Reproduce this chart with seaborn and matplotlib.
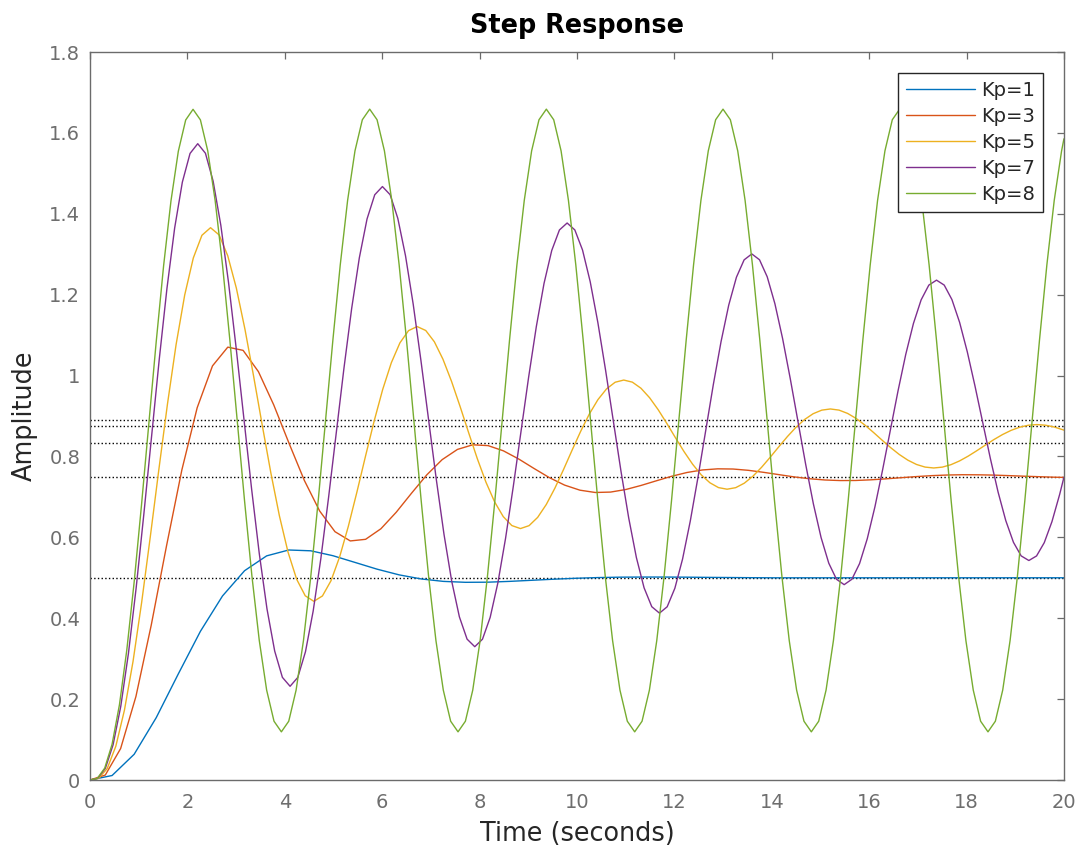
import numpy as np
import pandas as pd
import matplotlib
matplotlib.use("Agg")
import matplotlib.pyplot as plt
import seaborn as sns

# Step response of Kp*G(s) in unity feedback
labels = ['Kp=1', 'Kp=3', 'Kp=5', 'Kp=7', 'Kp=8']
colors = ['#0072BD', '#D95319', '#EDB120', '#7E2F8E', '#77AC30']
final_values = [0.5, 0.75, 0.8333, 0.875, 0.8889]
t_end = 20.0
# sample spacing (s) of each read-off curve; the last sample sits at t_end
steps = [0.45345, 0.31441, 0.17679, 0.15803, 0.15115]

amp_kp1 = [0.0, 0.0111, 0.0636, 0.1542, 0.2624, 0.3676, 0.4550, 0.5175, 0.5542, 0.5687,
           0.5667, 0.5546, 0.5380, 0.5213, 0.5072, 0.4971, 0.4911, 0.4888, 0.4891, 0.4911,
           0.4938, 0.4965, 0.4988, 0.5005, 0.5015, 0.5018, 0.5018, 0.5015, 0.5010, 0.5006,
           0.5002, 0.4999, 0.5000]

amp_kp3 = [0.0, 0.0123, 0.0777, 0.2065, 0.3829, 0.5793, 0.7667, 0.9204, 1.0239, 1.0703,
           1.0623, 1.0097, 0.9275, 0.8325, 0.7407, 0.6651,
           0.6140, 0.5911, 0.5951, 0.6212, 0.6620, 0.7091, 0.7546, 0.7921, 0.8174, 0.8288,
           0.8268, 0.8139, 0.7937, 0.7703, 0.7477, 0.7291,
           0.7166, 0.7109, 0.7119, 0.7183, 0.7284, 0.7399, 0.7511, 0.7604, 0.7666, 0.7694,
           0.7689, 0.7657, 0.7607, 0.7550, 0.7494, 0.7449,
           0.7418, 0.7404, 0.7406, 0.7422, 0.7447, 0.7475, 0.7503, 0.7526, 0.7541, 0.7548,
           0.7546, 0.7539, 0.7526, 0.7512, 0.7499, 0.7487, 0.7482]

amp_kp5 = [0.0, 0.0040, 0.0283, 0.0835, 0.1727, 0.2934, 0.4391, 0.6008, 0.7680, 0.9299,
           1.0766, 1.1991, 1.2907, 1.3468, 1.3656, 1.3477, 1.2962, 1.2162, 1.1144, 0.9989,
           0.8781, 0.7602, 0.6532, 0.5636,
           0.4966, 0.4555, 0.4418, 0.4551, 0.4930, 0.5519, 0.6267, 0.7116, 0.8005, 0.8871,
           0.9658, 1.0316, 1.0809, 1.1111, 1.1212, 1.1114, 1.0835, 1.0403, 0.9853, 0.9228,
           0.8575, 0.7938, 0.7360, 0.6876,
           0.6513, 0.6291, 0.6217, 0.6289, 0.6494, 0.6812, 0.7216, 0.7675, 0.8156, 0.8624,
           0.9049, 0.9405, 0.9671, 0.9835, 0.9889, 0.9837, 0.9686, 0.9452, 0.9155, 0.8817,
           0.8464, 0.8120, 0.7807, 0.7545,
           0.7350, 0.7230, 0.7190, 0.7228, 0.7339, 0.7511, 0.7730, 0.7978, 0.8237, 0.8490,
           0.8720, 0.8913, 0.9057, 0.9145, 0.9174, 0.9146, 0.9064, 0.8938, 0.8777, 0.8595,
           0.8404, 0.8218, 0.8049, 0.7908,
           0.7802, 0.7737, 0.7715, 0.7736, 0.7796, 0.7889, 0.8007, 0.8141, 0.8281, 0.8418,
           0.8542, 0.8646, 0.8724, 0.8772, 0.8788, 0.8772, 0.8728, 0.8660, 0.8650]

amp_kp7 = [0.0, 0.0041, 0.0291, 0.0870, 0.1823, 0.3137, 0.4753, 0.6579, 0.8504, 1.0403,
           1.2155, 1.3647, 1.4782, 1.5492, 1.5733, 1.5497, 1.4807, 1.3716, 1.2303, 1.0669,
           0.8926, 0.7196, 0.5594, 0.4229,
           0.3188, 0.2538, 0.2317, 0.2536, 0.3172, 0.4177, 0.5479, 0.6984, 0.8588, 1.0181,
           1.1656, 1.2913, 1.3872, 1.4470, 1.4673, 1.4472, 1.3886, 1.2961, 1.1762, 1.0377,
           0.8899, 0.7432, 0.6075, 0.4917,
           0.4034, 0.3483, 0.3296, 0.3481, 0.4021, 0.4873, 0.5976, 0.7252, 0.8612, 0.9963,
           1.1213, 1.2280, 1.3092, 1.3600, 1.3772, 1.3601, 1.3105, 1.2320, 1.1304, 1.0129,
           0.8877, 0.7633, 0.6482, 0.5500,
           0.4752, 0.4285, 0.4126, 0.4283, 0.4741, 0.5463, 0.6399, 0.7480, 0.8633, 0.9779,
           1.0838, 1.1742, 1.2431, 1.2861, 1.3007, 1.2863, 1.2442, 1.1776, 1.0915, 0.9919,
           0.8857, 0.7803, 0.6827, 0.5995,
           0.5361, 0.4964, 0.4830, 0.4963, 0.5351, 0.5964, 0.6757, 0.7674, 0.8651, 0.9622,
           1.0521, 1.1287, 1.1871, 1.2236, 1.2359, 1.2237, 1.1880, 1.1316, 1.0586, 0.9741,
           0.8841, 0.7947, 0.7120, 0.6414,
           0.5876, 0.5541, 0.5427, 0.5540, 0.5868, 0.6388, 0.7060, 0.7485]

amp_kp8 = [0.0, 0.0041, 0.0294, 0.0883, 0.1860, 0.3215, 0.4894, 0.6804, 0.8830, 1.0844,
           1.2714, 1.4317, 1.5546, 1.6319, 1.6583, 1.6322, 1.5554,
           1.4332, 1.2738, 1.0881, 0.8889, 0.6897, 0.5040, 0.3446, 0.2222, 0.1453, 0.1191,
           0.1453, 0.2222, 0.3446, 0.5040, 0.6897, 0.8889, 1.0881, 1.2738, 1.4332, 1.5556,
           1.6325, 1.6587, 1.6325, 1.5556,
           1.4332, 1.2738, 1.0881, 0.8889, 0.6897, 0.5040, 0.3446, 0.2222, 0.1453, 0.1191,
           0.1453, 0.2222, 0.3446, 0.5040, 0.6897, 0.8889, 1.0881, 1.2738, 1.4332, 1.5556,
           1.6325, 1.6587, 1.6325, 1.5556,
           1.4332, 1.2738, 1.0881, 0.8889, 0.6897, 0.5040, 0.3446, 0.2222, 0.1453, 0.1191,
           0.1453, 0.2222, 0.3446, 0.5040, 0.6897, 0.8889, 1.0881, 1.2738, 1.4332, 1.5556,
           1.6325, 1.6587, 1.6325, 1.5556,
           1.4332, 1.2738, 1.0881, 0.8889, 0.6897, 0.5040, 0.3446, 0.2222, 0.1453, 0.1191,
           0.1453, 0.2222, 0.3446, 0.5040, 0.6897, 0.8889, 1.0881, 1.2738, 1.4332, 1.5556,
           1.6325, 1.6587, 1.6325, 1.5556,
           1.4332, 1.2738, 1.0881, 0.8889, 0.6897, 0.5040, 0.3446, 0.2222, 0.1453, 0.1191,
           0.1453, 0.2222, 0.3446, 0.5040, 0.6897, 0.8889, 1.0881, 1.2738, 1.4332, 1.5556,
           1.5854]

x_ticks = [0, 2, 4, 6, 8, 10, 12, 14, 16, 18, 20]
y_ticks = [0, 0.2, 0.4, 0.6, 0.8, 1.0, 1.2, 1.4, 1.6, 1.8]
y_tick_labels = ['0', '0.2', '0.4', '0.6', '0.8', '1', '1.2', '1.4', '1.6', '1.8']

series = [amp_kp1, amp_kp3, amp_kp5, amp_kp7, amp_kp8]
frames = []
for lab, dt, amp in zip(labels, steps, series):
    t = np.append(np.arange(len(amp) - 1) * dt, t_end)
    frames.append(pd.DataFrame({'Time': t, 'Amplitude': amp, 'Kp': lab}))
df = pd.concat(frames, ignore_index=True)

sns.set_style('white')
plt.rcParams['font.family'] = ['DejaVu Sans']

fig = plt.figure(figsize=(10.83, 8.47), dpi=100)
ax = fig.add_axes([0.0831, 0.0791, 0.8993, 0.8595])

# steady-state reference lines
for fv in final_values:
    ax.axhline(fv, xmin=0, xmax=1, color='black', linestyle=':', lw=1.0, zorder=1.5)

sns.lineplot(data=df, x='Time', y='Amplitude', hue='Kp', palette=colors,
             estimator=None, sort=False, lw=1.0, ax=ax, zorder=2)

ax.set_xlim(0, 20)
ax.set_ylim(0, 1.8)
ax.set_xticks(x_ticks)
ax.set_yticks(y_ticks)
ax.set_yticklabels(y_tick_labels)

gray = '#6b6b6b'
for sp in ax.spines.values():
    sp.set_visible(True)
    sp.set_color(gray)
    sp.set_linewidth(1.0)
ax.tick_params(direction='in', top=True, right=True, length=5, width=0.9,
               color=gray, labelcolor='#6e6e6e', labelsize=14)
ax.tick_params(axis='x', pad=9)
ax.tick_params(axis='y', pad=7)

ax.set_title('Step Response', fontsize=18.4, fontweight='bold', pad=13.5, color='black')
ax.set_xlabel('Time (seconds)', fontsize=18.4, color='#262626', labelpad=6.5)
ax.set_ylabel('Amplitude', fontsize=18.4, color='#262626', labelpad=8.3)

handles, labs = ax.get_legend_handles_labels()
leg = ax.legend(handles, labs, loc='upper right', fontsize=14, frameon=True,
                fancybox=False, framealpha=1, edgecolor='#262626',
                borderpad=0.4, labelspacing=0.36, handlelength=3.55,
                handletextpad=0.3, borderaxespad=1.1)
leg.get_frame().set_linewidth(1.0)
for txt in leg.get_texts():
    txt.set_color('#262626')

fig.savefig('out.png', dpi=100)
